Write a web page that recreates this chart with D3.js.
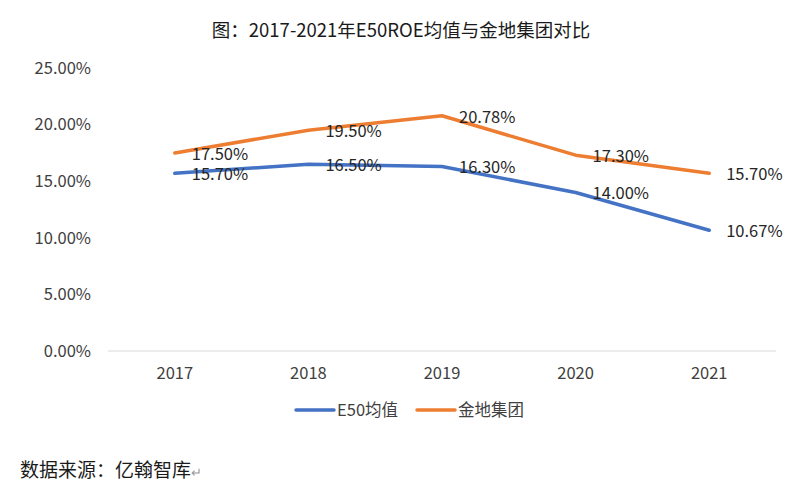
<!DOCTYPE html>
<html>
<head>
<meta charset="utf-8">
<script src="https://cdn.jsdelivr.net/npm/d3@7"></script>
<style>
  body { margin: 0; background: #fff; }
  svg { display: block; font-family: "Noto Sans CJK SC", "Noto Sans", sans-serif; }
</style>
</head>
<body>
<div id="chart"></div>
<script>
const years = ['2017', '2018', '2019', '2020', '2021']
const e50 = [15.70, 16.50, 16.30, 14.00, 10.67]
const jindi = [17.50, 19.50, 20.78, 17.30, 15.70]
const yTicks = [0, 5, 10, 15, 20, 25]
const seriesNames = ['E50均值', '金地集团']
const colors = ['#4472C4', '#ED7D31']

const width = 800, height = 488
const svg = d3.select('#chart').append('svg')
  .attr('width', width)
  .attr('height', height)

const x = d3.scaleBand().domain(years).range([108, 776])
const y = d3.scaleLinear().domain([0, 25]).range([351, 68])

svg.append('text')
  .attr('x', 401)
  .attr('y', 37)
  .attr('text-anchor', 'middle')
  .attr('font-size', 18.5)
  .attr('fill', '#1a1a1a')
  .text('图：2017-2021年E50ROE均值与金地集团对比')

// y 轴标签
svg.append('g')
  .selectAll('text')
  .data(yTicks)
  .join('text')
  .attr('x', 91)
  .attr('y', d => y(d))
  .attr('dy', '0.35em')
  .attr('text-anchor', 'end')
  .attr('font-size', 16.5)
  .attr('fill', '#404040')
  .text(d => d.toFixed(2) + '%')

// x 轴
svg.append('line')
  .attr('x1', x.range()[0])
  .attr('x2', x.range()[1])
  .attr('y1', y(0))
  .attr('y2', y(0))
  .attr('stroke', '#d9d9d9')
  .attr('stroke-width', 1)

svg.append('g')
  .selectAll('text')
  .data(years)
  .join('text')
  .attr('x', d => x(d) + x.bandwidth() / 2)
  .attr('y', 379)
  .attr('text-anchor', 'middle')
  .attr('font-size', 16.5)
  .attr('fill', '#404040')
  .text(d => d)

const line = d3.line()
  .x((d, i) => x(years[i]) + x.bandwidth() / 2)
  .y(d => y(d))

const series = [e50, jindi]
series.forEach((s, k) => {
  svg.append('path')
    .datum(s)
    .attr('fill', 'none')
    .attr('stroke', colors[k])
    .attr('stroke-width', 3.5)
    .attr('stroke-linecap', 'round')
    .attr('stroke-linejoin', 'round')
    .attr('d', line)
})

// 数据标签
series.forEach((s, k) => {
  svg.append('g')
    .selectAll('text')
    .data(s)
    .join('text')
    .attr('x', (d, i) => x(years[i]) + x.bandwidth() / 2 + 17)
    .attr('y', d => y(d) + 1)
    .attr('dy', '0.35em')
    .attr('font-size', 16.5)
    .attr('fill', '#262626')
    .text(d => d.toFixed(2) + '%')
})

// 图例
const legendX = [296, 417]
const legend = svg.append('g')
  .selectAll('g')
  .data(seriesNames)
  .join('g')
  .attr('transform', (d, i) => `translate(${legendX[i]},410)`)
legend.append('line')
  .attr('x1', 0)
  .attr('x2', 38)
  .attr('stroke', (d, i) => colors[i])
  .attr('stroke-width', 3.5)
  .attr('stroke-linecap', 'round')
legend.append('text')
  .attr('x', 41)
  .attr('dy', '0.35em')
  .attr('font-size', 16.5)
  .attr('fill', '#404040')
  .text(d => d)

// 来源
const src = svg.append('text')
  .attr('x', 20)
  .attr('y', 477)
  .attr('font-size', 19)
  .attr('fill', '#1a1a1a')
  .text('数据来源：亿翰智库')
src.append('tspan')
  .attr('font-size', 13)
  .attr('fill', '#999')
  .text('↵')
</script>
</body>
</html>
